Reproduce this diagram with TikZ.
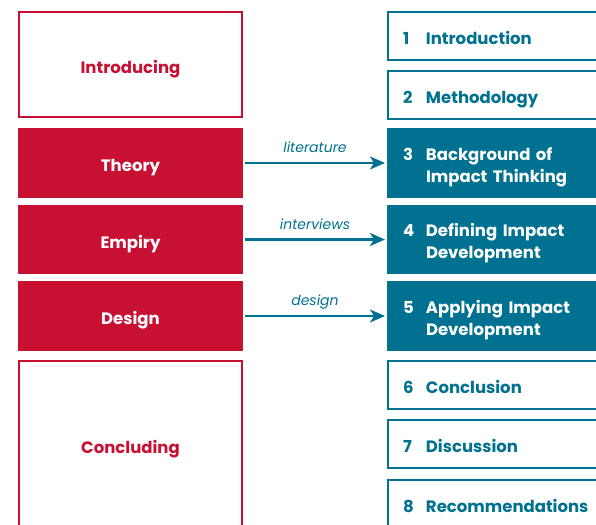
\documentclass[tikz,border=0pt]{standalone}
\usepackage{fontspec}
\setmainfont{Poppins}
\usetikzlibrary{positioning}
\usetikzlibrary{arrows.meta}

\definecolor{partred}{RGB}{200,16,50}
\definecolor{chapteal}{RGB}{0,113,145}
\newcommand{\chapnum}[2]{\begin{tabular}[t]{@{}p{23pt}@{}l@{}}#1&#2\end{tabular}}

\begin{document}
\begin{tikzpicture}[x=1pt,y=-1pt,>={Stealth[length=15pt,width=13pt,inset=4pt]},
	part box/.style={rectangle,draw=partred,line width=2.4pt,minimum width=222.6pt,
		inner sep=0pt,text height=19.5pt,text depth=2.1pt,
		font=\fontsize{16.5}{22}\selectfont\bfseries},
	part open/.style={part box,fill=white,text=partred},
	part full/.style={part box,fill=partred,text=white},
	chap box/.style={rectangle,draw=chapteal,line width=2.4pt,minimum width=250.6pt,
		text width=221pt,align=left,inner xsep=14.5pt,inner ysep=0pt,
		font=\fontsize{16.5}{22}\selectfont\bfseries},
	chap open/.style={chap box,fill=white,text=chapteal,minimum height=47.6pt,
		text height=18pt,text depth=1.4pt},
	chap full/.style={chap box,fill=chapteal,text=white,
		text height=10pt,text depth=16pt},
	link/.style={->,draw=chapteal,line width=2.4pt,shorten >=2pt,shorten <=2pt},
	flow label/.style={above=9pt,inner sep=0pt,text depth=0pt,text=chapteal,
		font=\fontsize{14}{16}\selectfont\itshape}]
	
	\clip (0,0) rectangle (596,524);
	
	% parts
	\node[part open,minimum height=104.6pt] (intro) at (18,11) [anchor=north west] {Introducing};
	\node[part full,minimum height=67.6pt] (theory) [below=10pt of intro] {Theory};
	\node[part full,minimum height=66.6pt] (empiry) [below=7pt of theory] {Empiry};
	\node[part full,minimum height=67.6pt] (design) [below=7pt of empiry] {Design};
	\node[part open,minimum height=167.6pt] (concl) [below=9pt of design] {Concluding};
	
	% chapters
	\node[chap open] (introch) at (387,11) [anchor=north west] {\chapnum{1}{Introduction}};
	\node[chap open] (method) [below=9pt of introch] {\chapnum{2}{Methodology}};
	\node[chap full,minimum height=67.6pt] (backgr) [below=8pt of method] {\chapnum{3}{Background of\\&Impact Thinking}};
	\node[chap full,minimum height=66.6pt] (define) [below=7pt of backgr] {\chapnum{4}{Defining Impact\\&Development}};
	\node[chap full,minimum height=67.6pt] (apply) [below=7pt of define] {\chapnum{5}{Applying Impact\\&Development}};
	\node[chap open] (conclch) [below=9pt of apply] {\chapnum{6}{Conclusion}};
	\node[chap open] (discuss) [below=9pt of conclch] {\chapnum{7}{Discussion}};
	\node[chap open] (recomm) [below=10pt of discuss] {\chapnum{8}{Recommendations}};
	
	\path
	(theory) edge[link] node[flow label] {literature} (backgr)
	(empiry) edge[link] node[flow label] {interviews} (define)
	(design) edge[link] node[flow label] {design} (apply);
\end{tikzpicture}
\end{document}
